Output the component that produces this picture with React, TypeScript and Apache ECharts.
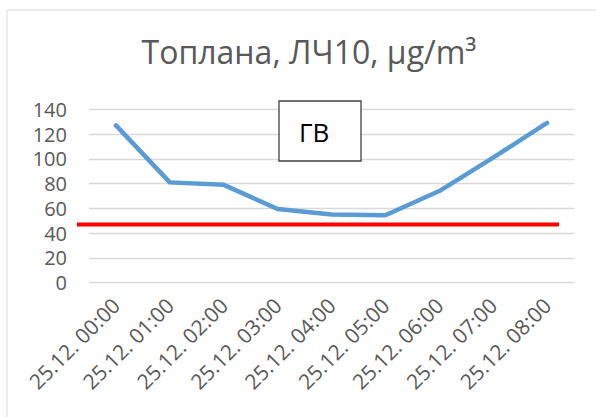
import React, { useEffect, useRef } from "react";
import * as echarts from "echarts";

const categories = [
  "25.12. 00:00",
  "25.12. 01:00",
  "25.12. 02:00",
  "25.12. 03:00",
  "25.12. 04:00",
  "25.12. 05:00",
  "25.12. 06:00",
  "25.12. 07:00",
  "25.12. 08:00",
];
const pm10Values = [127, 81, 79, 59.5, 55, 54.5, 74, 101, 129];
const limitValue = 47;
const yTicks = { min: 0, max: 140, interval: 20 };
const titleText = "Топлана, ЛЧ10, µg/m³";
const boxLabel = "ГВ";

export default function App() {
  const ref = useRef<HTMLDivElement>(null);
  useEffect(() => {
    if (!ref.current) return;
    const chart = echarts.init(ref.current, null, { renderer: "svg" });
    const font = "Open Sans";
    chart.setOption({
      animation: false,
      backgroundColor: "#ffffff",
      title: {
        text: titleText,
        left: 304,
        textAlign: "center",
        top: 30,
        textStyle: {
          fontFamily: font,
          fontSize: 32,
          fontWeight: "normal",
          color: "#595959",
        },
      },
      grid: { left: 89, right: 22, top: 109.3, bottom: 134.3 },
      xAxis: {
        type: "category",
        data: categories,
        boundaryGap: true,
        axisLine: { show: false },
        axisTick: { show: false },
        axisLabel: {
          rotate: 45,
          interval: 0,
          margin: 19,
          fontFamily: font,
          fontSize: 21,
          lineHeight: 16,
          color: "#595959",
        },
      },
      yAxis: {
        type: "value",
        min: yTicks.min,
        max: yTicks.max,
        interval: yTicks.interval,
        axisLine: { show: false },
        axisTick: { show: false },
        splitLine: { lineStyle: { color: "#d9d9d9", width: 1.3 } },
        axisLabel: {
          margin: 22,
          fontFamily: font,
          fontSize: 20,
          lineHeight: 18,
          color: "#595959",
        },
      },
      series: [
        {
          type: "line",
          data: pm10Values,
          symbol: "none",
          lineStyle: { color: "#5b9bd5", width: 4.5, cap: "round", join: "round" },
          z: 3,
        },
      ],
    });
    const yPix = chart.convertToPixel({ yAxisIndex: 0 }, limitValue) as number;
    const xLast = chart.convertToPixel({ xAxisIndex: 0 }, categories[categories.length - 1]) as number;
    chart.setOption({
      graphic: [
        {
          type: "rect",
          shape: { x: 7, y: 10, width: 700, height: 600 },
          style: { fill: "none", stroke: "#d9d9d9", lineWidth: 1 },
          silent: true,
          z: 0,
        },
        {
          type: "line",
          shape: { x1: 77, y1: yPix, x2: xLast + 12, y2: yPix },
          style: { stroke: "#ff0000", lineWidth: 4 },
          z: 10,
        },
        {
          type: "rect",
          shape: { x: 279, y: 101, width: 82, height: 60 },
          style: { fill: "#ffffff", stroke: "#404040", lineWidth: 1.3 },
          z: 10,
        },
        {
          type: "text",
          x: 299,
          y: 132,
          style: {
            text: boxLabel,
            fontFamily: font,
            fontSize: 26,
            fill: "#000000",
            align: "left",
            verticalAlign: "middle",
          },
          z: 11,
        },
      ],
    });
    return () => chart.dispose();
  }, []);
  return (
    <div
      ref={ref}
      style={{ position: "fixed", left: 0, top: 0, width: 596, height: 417 }}
    />
  );
}
